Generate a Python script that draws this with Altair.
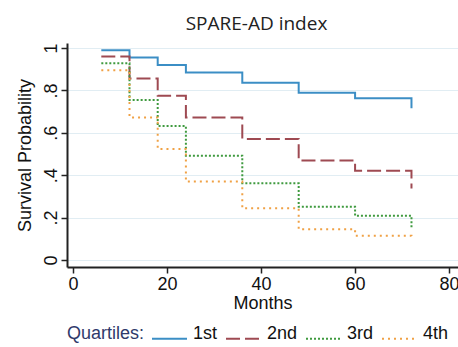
import altair as alt
import pandas as pd

months = [6, 12, 18, 24, 36, 48, 60, 72]
q1 = [0.99, 0.955, 0.92, 0.885, 0.836, 0.789, 0.763, 0.716]
q2 = [0.96, 0.857, 0.775, 0.673, 0.571, 0.47, 0.421, 0.338]
q3 = [0.928, 0.755, 0.632, 0.492, 0.362, 0.251, 0.209, 0.15]
q4 = [0.896, 0.673, 0.524, 0.37, 0.244, 0.145, 0.115, 0.094]
quartiles = ["1st", "2nd", "3rd", "4th"]
x_ticks = [0, 20, 40, 60, 80]
y_ticks = [0, 0.2, 0.4, 0.6, 0.8, 1]

colors = ["#3b8ec5", "#9e4a52", "#3f9a3f", "#f0a145"]
dashes = [[1, 0], [14, 5], [2, 2], [2, 4]]

rows = []
for name, vals in zip(quartiles, [q1, q2, q3, q4]):
    for i, (t, v) in enumerate(zip(months, vals)):
        rows.append({"Quartile": name, "Months": t, "Surv": v, "ord": i})
df = pd.DataFrame(rows)

FONT = "Liberation Sans"

legend = alt.Legend(
    title="Quartiles:",
    orient="none",
    legendX=0,
    legendY=277,
    direction="horizontal",
    titleOrient="left",
    titleAnchor="end",
    titleFontSize=18,
    titleFont=FONT,
    titleFontWeight="normal",
    titleColor="#2f3a6b",
    titleBaseline="bottom",
    titlePadding=6,
    labelFontSize=18,
    labelFont=FONT,
    labelColor="#111",
    labelBaseline="alphabetic",
    labelOffset=5,
    columnPadding=4,
    symbolType="stroke",
    symbolSize=1225,
    symbolStrokeWidth=2,
    padding=0,
)

chart = alt.Chart(df).mark_line(interpolate="step-after", strokeWidth=2).encode(
    x=alt.X(
        "Months:Q",
        scale=alt.Scale(domain=[-1.3, 81.9], nice=False, zero=False),
        axis=alt.Axis(values=x_ticks, title="Months", grid=False, titlePadding=1),
    ),
    y=alt.Y(
        "Surv:Q",
        scale=alt.Scale(domain=[-0.033, 1.024], nice=False, zero=False),
        axis=alt.Axis(
            values=y_ticks,
            title="Survival Probability",
            grid=True,
            labelExpr="replace(format(datum.value, '.1~f'), '0.', '.')",
            labelAngle=270,
            labelAlign="center",
            labelBaseline="bottom",
            labelPadding=1,
            titlePadding=8,
        ),
    ),
    color=alt.Color("Quartile:N", scale=alt.Scale(domain=quartiles, range=colors), legend=legend),
    strokeDash=alt.StrokeDash("Quartile:N", scale=alt.Scale(domain=quartiles, range=dashes), legend=legend),
    order=alt.Order("ord:Q"),
).properties(
    width=391,
    height=224,
    autosize=alt.AutoSizeParams(type="none"),
    padding={"left": 67, "top": 43, "right": 0, "bottom": 80},
    title=alt.TitleParams(
        "SPARE-AD index",
        font="Open Sans",
        fontSize=19,
        fontWeight="normal",
        color="#222",
        anchor="middle",
        baseline="alphabetic",
        offset=-6,
        dx=-6,
    ),
    background="white",
).configure_view(stroke=None).configure_axis(
    labelFont=FONT,
    titleFont=FONT,
    labelFontSize=18,
    titleFontSize=18,
    titleFontWeight="normal",
    labelColor="#111",
    titleColor="#111",
    domainColor="#222",
    domainWidth=2,
    tickColor="#222",
    tickWidth=1.5,
    tickSize=6,
    gridColor="#e1edf3",
    gridWidth=1.2,
)

chart.save("out.html", embed_options={"renderer": "svg", "actions": False})
